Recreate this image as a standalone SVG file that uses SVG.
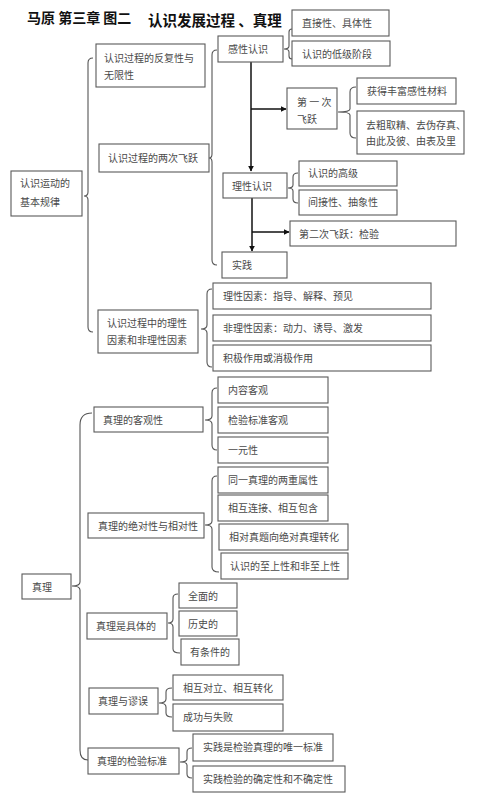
<svg xmlns="http://www.w3.org/2000/svg" width="500" height="794" viewBox="0 0 500 794">
<defs>
<style>
.b{fill:#fff;stroke:#5a5a5a;stroke-width:1.1}
.t{font-family:"Noto Sans CJK SC","Noto Sans",sans-serif;font-size:10px;fill:#4a4a4a}
.h{font-family:"Noto Sans CJK SC","Noto Sans",sans-serif;font-weight:bold;fill:#111}
.br{fill:none;stroke:#555;stroke-width:1.1}
.ar{fill:none;stroke:#111;stroke-width:1.5}
</style>
<marker id="ah" viewBox="0 0 10 10" refX="9" refY="5" markerWidth="6" markerHeight="6" orient="auto" markerUnits="userSpaceOnUse"><path d="M0,0 L10,5 L0,10 z" fill="#111"/></marker>
</defs>
<rect width="500" height="794" fill="#fff"/>
<g id="title">
<text class="h" x="27" y="23" font-size="14">马原 第三章 图二</text>
<text class="h" x="148" y="26" font-size="14.5">认识发展过程 、真理</text>
</g>
<g id="connectors">
<path class="br" d="M93,58 Q88,58 88,63 L88,192 Q88,196 84,196 Q88,196 88,200 L88,327 Q88,332 93,332"/>
<path class="br" d="M217,50 Q212,50 212,55 L212,154 Q212,158 209,158 Q212,158 212,162 L212,260 Q212,265 217,265"/>
<path class="br" d="M292,29 Q289,29 289,32 L289,46 Q289,49 284,49 Q289,49 289,52 L289,56 Q289,59 292,59"/>
<path class="br" d="M356,87 Q350,87 350,92 L350,109 Q350,112 338,112 Q350,112 350,115 L350,133 Q350,138 356,138"/>
<path class="br" d="M298,173 Q293,173 293,177 L293,185 Q293,188 288,188 Q293,188 293,191 L293,199 Q293,203 298,203"/>
<path class="br" d="M212,289 Q207,289 207,294 L207,325 Q207,329 201,329 Q207,329 207,333 L207,362 Q207,367 212,367"/>
<path class="br" d="M92,413 Q80,413 80,425 L80,582 Q80,586 72,586 Q80,586 80,590 L80,750 Q80,760 88,760"/>
<path class="br" d="M217,388 Q212,388 212,393 L212,416 Q212,420 205,420 Q212,420 212,424 L212,445 Q212,450 217,450"/>
<path class="br" d="M217,476 Q212,476 212,481 L212,521 Q212,525 205,525 Q212,525 212,529 L212,567 Q212,572 219,572"/>
<path class="br" d="M178,594 Q173,594 173,598 L173,619 Q173,623 168,623 Q173,623 173,627 L173,649 Q173,653 180,653"/>
<path class="br" d="M172,688 Q166,688 166,692 L166,699 Q166,703 159,703 Q166,703 166,707 L166,713 Q166,717 172,717"/>
<path class="br" d="M192,748 Q187,748 187,752 L187,759 Q187,762 180,762 Q187,762 187,765 L187,774 Q187,778 192,778"/>
<path class="ar" d="M251,62 L251,171" marker-end="url(#ah)"/>
<path class="ar" d="M251,109 L286,109" marker-end="url(#ah)"/>
<path class="ar" d="M252,198 L252,251" marker-end="url(#ah)"/>
<path class="ar" d="M252,232 L289,232" marker-end="url(#ah)"/>
</g>
<g id="n1"><rect class="b" x="11" y="171" width="71" height="45"/><text class="t" x="20" y="187">认识运动的</text><text class="t" x="20" y="206">基本规律</text></g>
<g id="n2"><rect class="b" x="96" y="44" width="109" height="43"/><text class="t" x="104" y="62">认识过程的反复性与</text><text class="t" x="104" y="79">无限性</text></g>
<g id="n3"><rect class="b" x="99" y="144" width="110" height="28"/><text class="t" x="108" y="162">认识过程的两次飞跃</text></g>
<g id="n4"><rect class="b" x="98" y="310" width="100" height="43"/><text class="t" x="107" y="327">认识过程中的理性</text><text class="t" x="107" y="344">因素和非理性因素</text></g>
<g id="n5"><rect class="b" x="218" y="36" width="65" height="26"/><text class="t" x="228" y="53">感性认识</text></g>
<g id="n6"><rect class="b" x="292" y="10" width="97" height="26"/><text class="t" x="302" y="27">直接性、具体性</text></g>
<g id="n7"><rect class="b" x="292" y="41" width="98" height="25"/><text class="t" x="302" y="58">认识的低级阶段</text></g>
<g id="n8"><rect class="b" x="287" y="88" width="50" height="41"/><text class="t" x="297" y="106">第 一 次</text><text class="t" x="297" y="123">飞跃</text></g>
<g id="n9"><rect class="b" x="357" y="78" width="99" height="26"/><text class="t" x="367" y="95">获得丰富感性材料</text></g>
<g id="n10"><rect class="b" x="357" y="111" width="107" height="43"/><text class="t" x="366" y="129">去粗取精、去伪存真、</text><text class="t" x="366" y="145">由此及彼、由表及里</text></g>
<g id="n11"><rect class="b" x="223" y="173" width="64" height="25"/><text class="t" x="232" y="190">理性认识</text></g>
<g id="n12"><rect class="b" x="299" y="161" width="98" height="25"/><text class="t" x="308" y="177">认识的高级</text></g>
<g id="n13"><rect class="b" x="299" y="190" width="98" height="25"/><text class="t" x="308" y="206">间接性、抽象性</text></g>
<g id="n14"><rect class="b" x="290" y="221" width="166" height="25"/><text class="t" x="299" y="238">第二次飞跃：检验</text></g>
<g id="n15"><rect class="b" x="222" y="252" width="65" height="26"/><text class="t" x="232" y="269">实践</text></g>
<g id="n16"><rect class="b" x="213" y="283" width="218" height="26"/><text class="t" x="223" y="300">理性因素：指导、解释、预见</text></g>
<g id="n17"><rect class="b" x="213" y="315" width="218" height="26"/><text class="t" x="223" y="332">非理性因素：动力、诱导、激发</text></g>
<g id="n18"><rect class="b" x="213" y="345" width="218" height="26"/><text class="t" x="223" y="362">积极作用或消极作用</text></g>
<g id="n19"><rect class="b" x="22" y="574" width="49" height="25"/><text class="t" x="32" y="591">真理</text></g>
<g id="n20"><rect class="b" x="94" y="407" width="109" height="25"/><text class="t" x="103" y="424">真理的客观性</text></g>
<g id="n21"><rect class="b" x="218" y="377" width="110" height="26"/><text class="t" x="228" y="394">内容客观</text></g>
<g id="n22"><rect class="b" x="218" y="407" width="110" height="26"/><text class="t" x="228" y="424">检验标准客观</text></g>
<g id="n23"><rect class="b" x="218" y="437" width="110" height="26"/><text class="t" x="228" y="454">一元性</text></g>
<g id="n24"><rect class="b" x="88" y="513" width="116" height="25"/><text class="t" x="98" y="530">真理的绝对性与相对性</text></g>
<g id="n25"><rect class="b" x="218" y="467" width="110" height="26"/><text class="t" x="228" y="484">同一真理的两重属性</text></g>
<g id="n26"><rect class="b" x="218" y="495" width="110" height="26"/><text class="t" x="228" y="512">相互连接、相互包含</text></g>
<g id="n27"><rect class="b" x="219" y="524" width="129" height="26"/><text class="t" x="229" y="541">相对真题向绝对真理转化</text></g>
<g id="n28"><rect class="b" x="221" y="553" width="127" height="26"/><text class="t" x="230" y="570">认识的至上性和非至上性</text></g>
<g id="n29"><rect class="b" x="87" y="613" width="80" height="26"/><text class="t" x="96" y="630">真理是具体的</text></g>
<g id="n30"><rect class="b" x="179" y="583" width="58" height="25"/><text class="t" x="188" y="600">全面的</text></g>
<g id="n31"><rect class="b" x="179" y="611" width="58" height="25"/><text class="t" x="188" y="628">历史的</text></g>
<g id="n32"><rect class="b" x="181" y="639" width="58" height="26"/><text class="t" x="190" y="656">有条件的</text></g>
<g id="n33"><rect class="b" x="89" y="688" width="69" height="26"/><text class="t" x="98" y="705">真理与谬误</text></g>
<g id="n34"><rect class="b" x="173" y="675" width="110" height="25"/><text class="t" x="183" y="692">相互对立、相互转化</text></g>
<g id="n35"><rect class="b" x="173" y="704" width="110" height="27"/><text class="t" x="183" y="721">成功与失败</text></g>
<g id="n36"><rect class="b" x="88" y="748" width="91" height="26"/><text class="t" x="97" y="765">真理的检验标准</text></g>
<g id="n37"><rect class="b" x="193" y="734" width="140" height="27"/><text class="t" x="203" y="751">实践是检验真理的唯一标准</text></g>
<g id="n38"><rect class="b" x="193" y="766" width="152" height="26"/><text class="t" x="203" y="783">实践检验的确定性和不确定性</text></g>
</svg>
